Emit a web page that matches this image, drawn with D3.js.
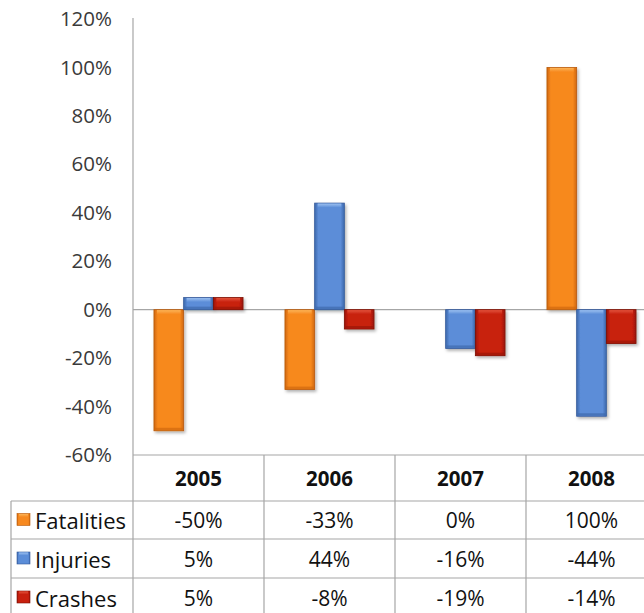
<!DOCTYPE html>
<html>
<head>
<meta charset="utf-8">
<script src="https://cdn.jsdelivr.net/npm/d3@7/dist/d3.min.js"></script>
<style>
  html, body { margin: 0; padding: 0; background: #fff; }
  svg { display: block; }
  text { font-family: "Open Sans", "Noto Sans", sans-serif; }
</style>
</head>
<body>
<svg id="chart" width="644" height="613"></svg>
<script>
// ---- data ----
const years = ["2005", "2006", "2007", "2008"];
const seriesNames = ["Fatalities", "Injuries", "Crashes"];
const fatalities = [-50, -33, 0, 100];
const injuries = [5, 44, -16, -44];
const crashes = [5, -8, -19, -14];
const yTickValues = [-60, -40, -20, 0, 20, 40, 60, 80, 100, 120];

const seriesValues = { Fatalities: fatalities, Injuries: injuries, Crashes: crashes };
const seriesColors = {
  Fatalities: { side: "#d0680e", main: "#f7891f", light: "#fcb457", dark: "#b85a0a" },
  Injuries:   { side: "#3f69ad", main: "#5b8dd8", light: "#9cc0f0", dark: "#34599a" },
  Crashes:    { side: "#9a1508", main: "#c8200e", light: "#e2533c", dark: "#7e1006" }
};

// ---- layout ----
const svg = d3.select("#chart");
const plotLeft = 133, plotRight = 657;
const tableTop = 455, headerBottom = 501;
const rowLines = [501, 539, 578, 617];
const tableLeft = 11;

const x0 = d3.scaleBand().domain(years).range([plotLeft, plotRight]).paddingInner(0).paddingOuter(0);
const bw = x0.bandwidth();
const x1 = d3.scaleBand().domain(seriesNames).range([bw * 0.16, bw * 0.84]).padding(0);
const y = d3.scaleLinear().domain([-60, 120]).range([455, 19]);

// ---- defs ----
const defs = svg.append("defs");
seriesNames.forEach((s, i) => {
  const c = seriesColors[s];
  const g = defs.append("linearGradient").attr("id", "grad" + i).attr("x1", 0).attr("x2", 1).attr("y1", 0).attr("y2", 0);
  g.append("stop").attr("offset", 0).attr("stop-color", c.side);
  g.append("stop").attr("offset", 0.13).attr("stop-color", c.main);
  g.append("stop").attr("offset", 0.87).attr("stop-color", c.main);
  g.append("stop").attr("offset", 1).attr("stop-color", c.side);
  const h = defs.append("linearGradient").attr("id", "hl" + i).attr("x1", 0).attr("x2", 0).attr("y1", 0).attr("y2", 1);
  h.append("stop").attr("offset", 0).attr("stop-color", c.light);
  h.append("stop").attr("offset", 1).attr("stop-color", c.main);
});
const f = defs.append("filter").attr("id", "shadow").attr("x", "-20%").attr("y", "-20%").attr("width", "150%").attr("height", "150%");
f.append("feDropShadow").attr("dx", 1.5).attr("dy", 2).attr("stdDeviation", 1.5).attr("flood-color", "#000").attr("flood-opacity", 0.3);

// ---- y axis ----
const yAxis = d3.axisLeft(y).tickValues(yTickValues).tickFormat(d => d + "%").tickSize(0).tickPadding(21);
const ga = svg.append("g").attr("transform", `translate(${plotLeft},0)`).call(yAxis);
ga.select(".domain").remove();
ga.selectAll("text").attr("font-size", 20.5).attr("fill", "#3a3a3a")
  .style("font-family", '"Open Sans", "Noto Sans", sans-serif');

svg.append("line").attr("x1", plotLeft).attr("x2", plotLeft).attr("y1", y(120) - 1).attr("y2", 613)
  .attr("stroke", "#a6a6a6").attr("stroke-width", 1.2);

// zero line
svg.append("line").attr("x1", plotLeft).attr("x2", 644).attr("y1", y(0)).attr("y2", y(0))
  .attr("stroke", "#a6a6a6").attr("stroke-width", 1.2);

// ---- bars ----
const barData = [];
years.forEach((yr, j) => {
  seriesNames.forEach((s, i) => {
    barData.push({ year: yr, series: s, idx: i, value: seriesValues[s][j] });
  });
});
const bars = svg.append("g").selectAll("g.bar").data(barData.filter(d => d.value !== 0)).join("g").attr("class", "bar");
bars.append("rect")
  .attr("x", d => x0(d.year) + x1(d.series))
  .attr("y", d => y(Math.max(0, d.value)))
  .attr("width", x1.bandwidth())
  .attr("height", d => Math.abs(y(d.value) - y(0)))
  .attr("fill", d => `url(#grad${d.idx})`)
  .attr("stroke", d => seriesColors[d.series].dark)
  .attr("stroke-width", 0.8)
  .attr("filter", "url(#shadow)");
// top bevel highlight
bars.append("rect")
  .attr("x", d => x0(d.year) + x1(d.series) + 3)
  .attr("y", d => y(Math.max(0, d.value)) + 0.5)
  .attr("width", x1.bandwidth() - 6)
  .attr("height", d => Math.min(4, Math.abs(y(d.value) - y(0)) - 1))
  .attr("fill", d => `url(#hl${d.idx})`);
// bottom bevel shade
bars.append("rect")
  .attr("x", d => x0(d.year) + x1(d.series) + 1)
  .attr("y", d => y(Math.min(0, d.value)) - 3)
  .attr("width", x1.bandwidth() - 2)
  .attr("height", d => Math.min(2.5, Math.abs(y(d.value) - y(0)) / 3))
  .attr("fill", d => seriesColors[d.series].side)
  .attr("opacity", 0.7);

// ---- data table ----
const gridColor = "#a6a6a6";
const table = svg.append("g");
table.append("line").attr("x1", plotLeft).attr("x2", 644).attr("y1", tableTop).attr("y2", tableTop)
  .attr("stroke", gridColor).attr("stroke-width", 1.2);
rowLines.forEach(ry => {
  table.append("line").attr("x1", tableLeft).attr("x2", 644).attr("y1", ry).attr("y2", ry)
    .attr("stroke", gridColor).attr("stroke-width", 1.2);
});
table.append("line").attr("x1", tableLeft).attr("x2", tableLeft).attr("y1", headerBottom).attr("y2", 613)
  .attr("stroke", gridColor).attr("stroke-width", 1.2);
years.forEach(yr => {
  const xr = x0(yr) + bw;
  table.append("line").attr("x1", xr).attr("x2", xr).attr("y1", tableTop).attr("y2", 613)
    .attr("stroke", gridColor).attr("stroke-width", 1.2);
});
table.selectAll("text.hdr").data(years).join("text").attr("class", "hdr")
  .attr("x", d => x0(d) + bw / 2).attr("y", (tableTop + headerBottom) / 2)
  .attr("text-anchor", "middle").attr("dominant-baseline", "central")
  .attr("font-size", 20.5).attr("font-weight", "bold").attr("fill", "#111")
  .text(d => d);
seriesNames.forEach((s, i) => {
  const cy = (rowLines[i] + rowLines[i + 1]) / 2;
  const c = seriesColors[s];
  table.append("rect").attr("x", 17).attr("y", cy - 6.5).attr("width", 13).attr("height", 12)
    .attr("fill", `url(#grad${i})`).attr("stroke", c.dark).attr("stroke-width", 0.6);
  table.append("rect").attr("x", 19).attr("y", cy - 6).attr("width", 9).attr("height", 3)
    .attr("fill", `url(#hl${i})`);
  table.append("text").attr("x", 35).attr("y", cy)
    .attr("dominant-baseline", "central").attr("font-size", 22).attr("fill", "#111")
    .text(s);
  table.selectAll(null).data(years).join("text")
    .attr("x", d => x0(d) + bw / 2).attr("y", cy)
    .attr("text-anchor", "middle").attr("dominant-baseline", "central")
    .attr("font-size", 21).attr("fill", "#111")
    .text((d, j) => seriesValues[s][j] + "%");
});
</script>
</body>
</html>
